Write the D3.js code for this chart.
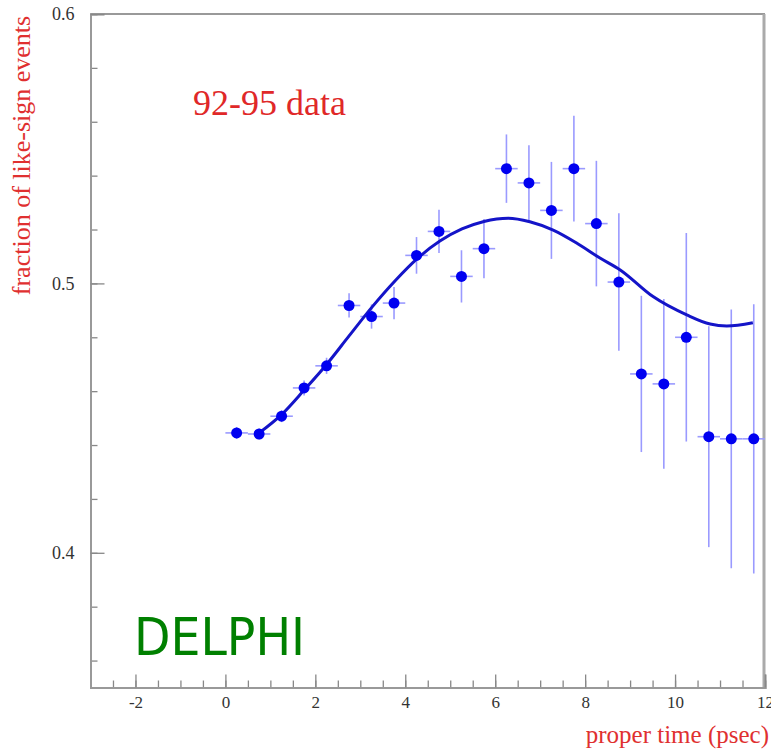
<!DOCTYPE html>
<html>
<head>
<meta charset="utf-8">
<script src="https://cdn.jsdelivr.net/npm/d3@7"></script>
<style>
  html, body { margin: 0; padding: 0; background: #fff; }
  svg { display: block; }
</style>
</head>
<body>
<svg id="chart" width="771" height="752"></svg>
<script>
// measured bins (proper time, psec) and like-sign fraction
const times = [0.25, 0.75, 1.25, 1.75, 2.25, 2.75, 3.25, 3.75, 4.25, 4.75, 5.25, 5.75,
               6.25, 6.75, 7.25, 7.75, 8.25, 8.75, 9.25, 9.75, 10.25, 10.75, 11.25, 11.75];
const fractions = [0.4445, 0.4441, 0.4507, 0.4612, 0.4694, 0.4918, 0.4877, 0.4927, 0.5104, 0.5193, 0.5026, 0.5129,
                   0.5426, 0.5373, 0.5271, 0.5426, 0.5222, 0.5005, 0.4664, 0.4627, 0.4800, 0.4431, 0.4423, 0.4423];
const errors = [0.0022, 0.0020, 0.0022, 0.0028, 0.0030, 0.0045, 0.0045, 0.0060, 0.0068, 0.0080, 0.0097, 0.0110,
                0.0127, 0.0140, 0.0180, 0.0196, 0.0233, 0.0255, 0.0290, 0.0315, 0.0387, 0.0410, 0.0480, 0.0500];
const binHalf = 0.25;

// fitted curve
const fitTimes = [0.75, 1.26, 1.75, 2.26, 2.75, 3.26, 3.77, 4.26, 4.77, 5.26, 5.75, 6.29, 6.77,
                  7.29, 7.81, 8.33, 8.78, 9.51, 10.26, 10.78, 11.15, 11.73];
const fitValues = [0.4445, 0.4515, 0.4604, 0.4701, 0.4805, 0.4912, 0.5009, 0.5091, 0.5157, 0.5202, 0.5230, 0.5242, 0.5229,
                   0.5198, 0.5150, 0.5094, 0.5050, 0.4951, 0.4883, 0.4849, 0.4842, 0.4854];

const xMajor = [-2, 0, 2, 4, 6, 8, 10, 12];
const xMinor = d3.range(-2.5, 12, 0.5);
const yMajor = [0.4, 0.5, 0.6];
const yMinor = d3.range(0.36, 0.6, 0.02);

const serif = "'Liberation Serif', 'Times New Roman', serif";
const svg = d3.select('#chart');
const plot = { left: 90.5, right: 765, top: 14, bottom: 687.5 };

const x = d3.scaleLinear().domain([-3, 12]).range([plot.left, plot.right]);
const y = d3.scaleLinear().domain([0.35, 0.6]).range([plot.bottom, plot.top]);

// frame (top + right)
svg.append('line').attr('x1', plot.left).attr('x2', plot.right).attr('y1', plot.top).attr('y2', plot.top)
  .attr('stroke', '#999').attr('stroke-width', 2);
svg.append('line').attr('x1', plot.right - 1).attr('x2', plot.right - 1).attr('y1', plot.top).attr('y2', plot.bottom)
  .attr('stroke', '#aaa').attr('stroke-width', 3);

// x axis
const gx = svg.append('g').attr('transform', `translate(0,${plot.bottom})`);
gx.call(d3.axisBottom(x).tickValues(xMinor).tickSize(-7).tickFormat(''));
gx.append('g').call(d3.axisBottom(x).tickValues(xMajor).tickSize(-13).tickPadding(22).tickFormat((d) => String(d)));
gx.selectAll('.domain').attr('stroke', '#999').attr('stroke-width', 2);
gx.selectAll('.tick line').attr('stroke', '#888').attr('stroke-width', 1.3);
gx.selectAll('.tick text')
  .style('font-family', serif).style('font-size', '17px').style('fill', '#333')
  .attr('dy', '-0.1em');

// y axis
const gy = svg.append('g').attr('transform', `translate(${plot.left},0)`);
gy.call(d3.axisLeft(y).tickValues(yMinor).tickSize(-7).tickFormat(''));
gy.append('g').call(d3.axisLeft(y).tickValues(yMajor).tickSize(-14).tickPadding(16).tickFormat(d3.format('.1f')));
gy.selectAll('.domain').attr('stroke', '#999').attr('stroke-width', 2);
gy.selectAll('.tick line').attr('stroke', '#888').attr('stroke-width', 1.3);
gy.selectAll('.tick text')
  .style('font-family', serif).style('font-size', '18px').style('fill', '#333');

// error bars
const bars = svg.append('g').attr('stroke', '#9a9aff').attr('stroke-width', 1.6);
times.forEach((t, i) => {
  bars.append('line')
    .attr('x1', x(t)).attr('x2', x(t))
    .attr('y1', y(fractions[i] - errors[i])).attr('y2', y(fractions[i] + errors[i]));
  bars.append('line')
    .attr('x1', x(t - binHalf)).attr('x2', x(t + binHalf))
    .attr('y1', y(fractions[i])).attr('y2', y(fractions[i]));
});

// fit curve
const line = d3.line().x((d) => x(d[0])).y((d) => y(d[1])).curve(d3.curveMonotoneX);
svg.append('path')
  .datum(fitTimes.map((t, i) => [t, fitValues[i]]))
  .attr('d', line)
  .attr('fill', 'none')
  .attr('stroke', '#1414c8')
  .attr('stroke-width', 3);

// data points
svg.append('g').selectAll('circle')
  .data(times)
  .join('circle')
  .attr('cx', (d) => x(d))
  .attr('cy', (d, i) => y(fractions[i]))
  .attr('r', 5.5)
  .attr('fill', '#0000f0');

// labels
svg.append('text')
  .attr('x', 193).attr('y', 115)
  .attr('font-family', serif)
  .attr('font-size', 36).attr('fill', '#e02828')
  .text('92-95 data');

svg.append('text')
  .attr('x', 134).attr('y', 655)
  .attr('font-family', "'DejaVu Sans', Verdana, sans-serif")
  .attr('font-size', 52).attr('fill', '#008000')
  .attr('textLength', 171).attr('lengthAdjust', 'spacingAndGlyphs')
  .text('DELPHI');

svg.append('text')
  .attr('transform', 'translate(30,155.5) rotate(-90)')
  .attr('text-anchor', 'middle')
  .attr('font-family', serif)
  .attr('font-size', 26).attr('fill', '#e03030')
  .text('fraction of like-sign events');

svg.append('text')
  .attr('x', 769).attr('y', 743)
  .attr('text-anchor', 'end')
  .attr('font-family', serif)
  .attr('font-size', 25).attr('fill', '#e03030')
  .text('proper time (psec)');
</script>
</body>
</html>
